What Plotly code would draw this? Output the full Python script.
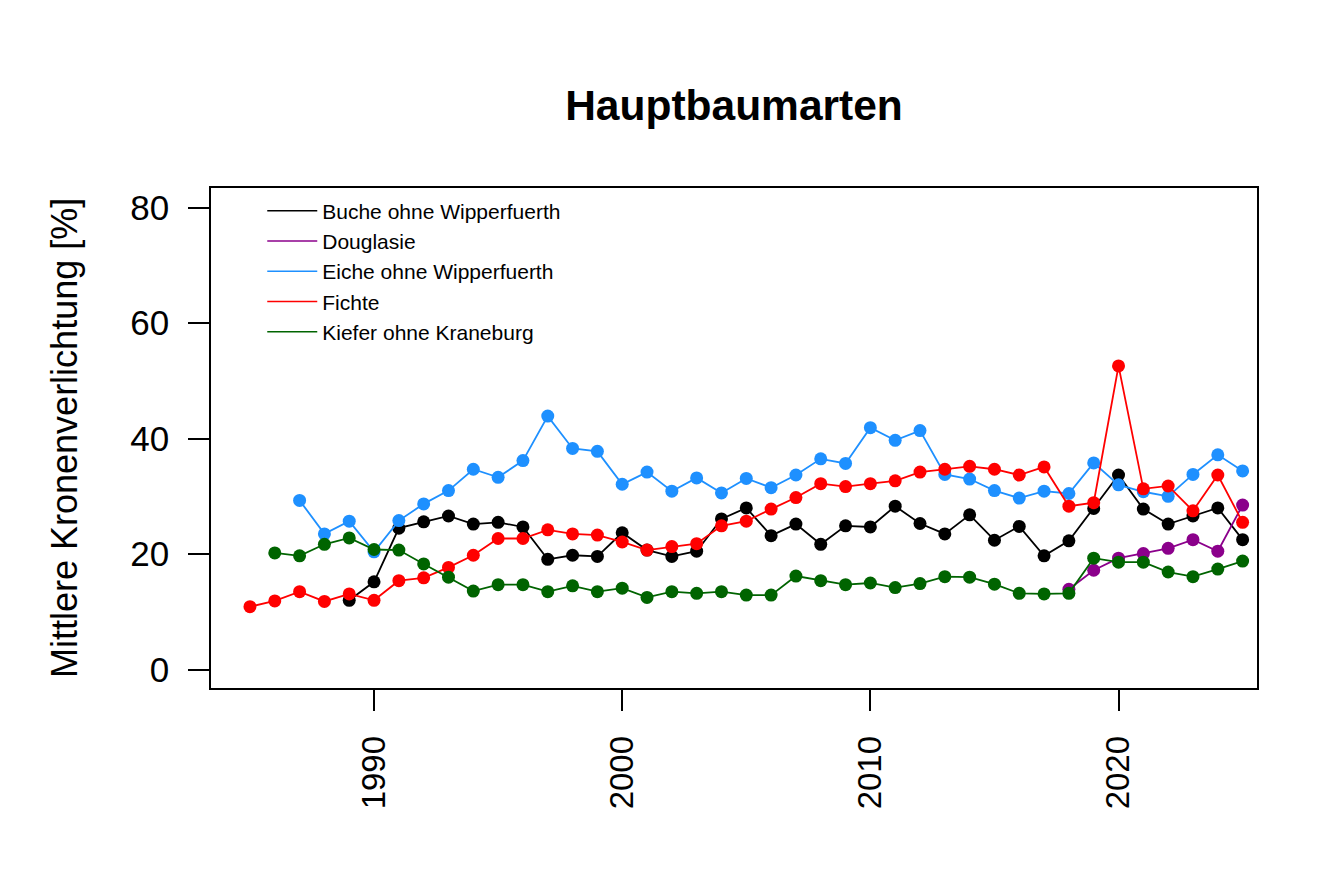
import plotly.graph_objects as go

years = list(range(1985, 2026))

# Values per year 1985..2025 (None = no observation)
buche = [None, None, None, None, 12.0, 15.2, 24.5, 25.6, 26.6, 25.2, 25.5, 24.7, 19.1, 19.8, 19.6,
         23.7, 20.7, 19.6, 20.5, 26.1, 28.0, 23.2, 25.2, 21.7, 24.9, 24.7, 28.3, 25.3, 23.5, 26.8,
         22.4, 24.8, 19.7, 22.3, 27.9, 33.7, 27.8, 25.2, 26.6, 28.0, 22.5]
douglasie = [None] * 33 + [13.9, 17.2, 19.3, 20.1, 21.0, 22.5, 20.5, 28.5]
eiche = [None, None, 29.3, 23.5, 25.7, 20.4, 25.8, 28.7, 31.0, 34.7, 33.3, 36.2, 43.9, 38.3, 37.8,
         32.1, 34.2, 30.9, 33.2, 30.6, 33.1, 31.5, 33.7, 36.5, 35.7, 41.9, 39.7, 41.4, 33.8, 33.0,
         31.0, 29.7, 30.9, 30.5, 35.8, 32.0, 30.8, 30.0, 33.8, 37.2, 34.4]
fichte = [10.9, 11.9, 13.5, 11.8, 13.1, 12.0, 15.4, 15.9, 17.7, 19.8, 22.7, 22.7, 24.2, 23.5, 23.3,
          22.1, 20.7, 21.3, 21.8, 24.9, 25.7, 27.8, 29.8, 32.2, 31.7, 32.2, 32.7, 34.2, 34.7, 35.2,
          34.7, 33.7, 35.1, 28.3, 28.9, 52.6, 31.3, 31.8, 27.5, 33.7, 25.5]
kiefer = [None, 20.2, 19.7, 21.7, 22.8, 20.8, 20.7, 18.3, 16.0, 13.6, 14.7, 14.7, 13.5, 14.5, 13.5,
          14.1, 12.5, 13.5, 13.2, 13.5, 12.9, 12.9, 16.2, 15.4, 14.7, 15.0, 14.2, 14.9, 16.1, 16.0,
          14.8, 13.2, 13.1, 13.2, 19.3, 18.6, 18.6, 16.9, 16.1, 17.4, 18.8]

series_names = ["Buche ohne Wipperfuerth", "Douglasie", "Eiche ohne Wipperfuerth",
                "Fichte", "Kiefer ohne Kraneburg"]
series_values = [buche, douglasie, eiche, fichte, kiefer]
series_colors = ["#000000", "#8B008B", "#1E90FF", "#FF0000", "#006400"]

x_ticks = [1990, 2000, 2010, 2020]
y_ticks = [0, 20, 40, 60, 80]

FONT = "Liberation Sans, Arial, sans-serif"

W, H = 1312, 870
L, R, T, B = 203, 63, 180, 190
PW = W - L - R

fig = go.Figure()
for name, vals, col in zip(series_names, series_values, series_colors):
    fig.add_trace(go.Scatter(
        x=years, y=vals, mode="lines+markers", name=name, showlegend=False,
        line=dict(color=col, width=1.8), marker=dict(color=col, size=13),
        connectgaps=False,
    ))
# legend entries: line only
for name, col in zip(series_names, series_colors):
    fig.add_trace(go.Scatter(
        x=[None], y=[None], mode="lines", name=name,
        line=dict(color=col, width=1.5), showlegend=True,
    ))

fig.update_layout(
    width=W, height=H,
    margin=dict(l=L, r=R, t=T, b=B),
    paper_bgcolor="white", plot_bgcolor="white",
    font=dict(family=FONT, color="black"),
    title=dict(text="<b>Hauptbaumarten</b>", x=0.5, xref="paper", xanchor="center",
               y=1 - 97 / H, yref="container", yanchor="middle",
               font=dict(size=42.5, family=FONT, color="black")),
    showlegend=True,
    legend=dict(x=0.049, y=0.995, xanchor="left", yanchor="top",
                bgcolor="rgba(0,0,0,0)", font=dict(size=21, family=FONT),
                traceorder="normal", tracegroupgap=0, itemwidth=50),
)

fig.update_xaxes(
    range=[1983.43, 2025.58], tickmode="array", tickvals=x_ticks,
    ticktext=[str(v) for v in x_ticks], tickangle=-90,
    ticks="outside", ticklen=21, tickwidth=1.5, tickcolor="black",
    showline=True, linecolor="black", linewidth=1.5, mirror=True,
    showgrid=False, zeroline=False, ticklabelstandoff=12,
    tickfont=dict(size=33, family=FONT, color="black"),
)
fig.update_yaxes(
    range=[-3.19, 83.41], tickmode="array", tickvals=y_ticks,
    ticktext=[str(v) for v in y_ticks],
    ticks="outside", ticklen=21, tickwidth=1.5, tickcolor="black",
    showline=True, linecolor="black", linewidth=1.5, mirror=True,
    showgrid=False, zeroline=False, ticklabelstandoff=12,
    tickfont=dict(size=35, family=FONT, color="black"),
)

fig.add_annotation(
    text="Mittlere Kronenverlichtung [%]", textangle=-90,
    xref="paper", yref="paper", x=(56 - L) / PW, y=0.5,
    xanchor="center", yanchor="middle", showarrow=False,
    font=dict(size=36, family=FONT, color="black"),
)

fig.write_html("out.html")
